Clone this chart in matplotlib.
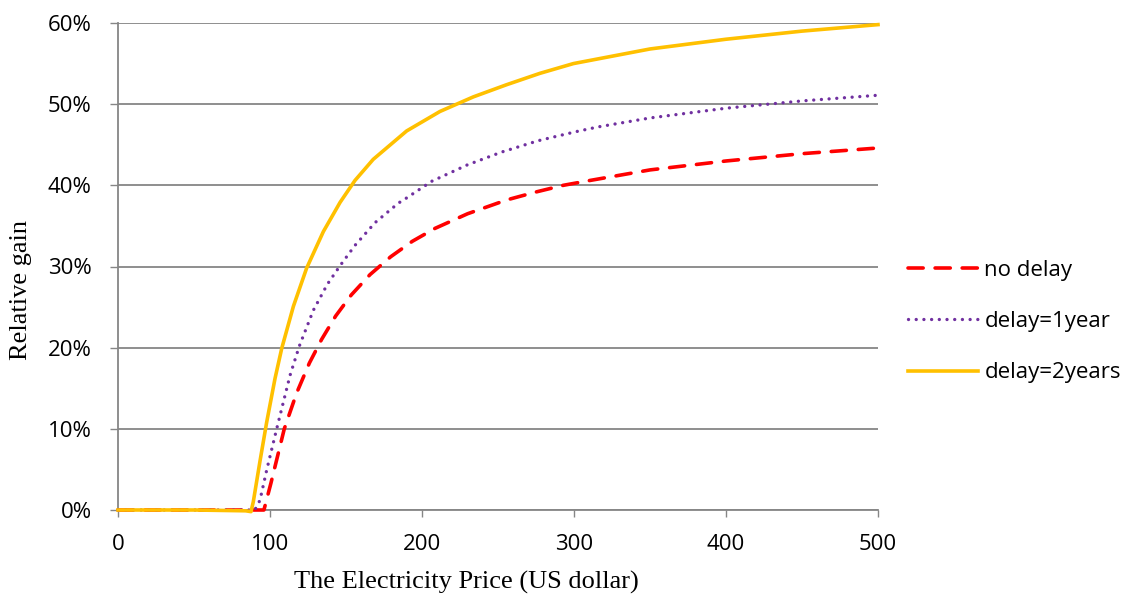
import matplotlib
matplotlib.use("Agg")
import matplotlib.pyplot as plt
from matplotlib.ticker import FuncFormatter

# ---- data (price in US dollar, relative gain in %) ----
x_nodelay = [0, 50, 88, 96, 100.6, 109.4, 117.5, 125.9, 133.9, 143.2, 153.5,
             165.8, 179.4, 193.6, 208.6, 230, 255.7, 275.4, 292.9, 310.5,
             350, 400, 450, 500]
y_nodelay = [0, 0, 0, 0, 3.3, 10.0, 14.4, 18.1, 21.0, 23.9, 26.5,
             29.0, 31.2, 33.1, 34.7, 36.5, 38.2, 39.2, 40.0, 40.6,
             41.9, 43.0, 43.9, 44.6]

x_delay1 = [0, 50, 85, 90, 93.4, 97.8, 104.4, 113.2, 119.3, 128.5, 137.7, 146.1,
            155.9, 169.1, 184.4, 189.5, 206.4, 229.6, 252.4, 276.5, 301, 315.9,
            350, 400, 450, 500]
y_delay1 = [0, 0, 0, 0, 1.2, 4.9, 10.0, 16.6, 20.2, 24.6, 27.8, 30.1,
            32.6, 35.4, 37.8, 38.4, 40.5, 42.5, 44.1, 45.5, 46.6, 47.2,
            48.3, 49.5, 50.4, 51.1]

x_delay2 = [0, 50, 84, 87.5, 89, 93.4, 97.8, 103.3, 107.7, 115.4, 124.1, 135.1,
            146.1, 155.9, 167.9, 189.9, 211.8, 233.8, 255.7, 277.6,
            299.6, 350, 400, 450, 500]
y_delay2 = [0, 0, -0.1, -0.2, 1.0, 6.0, 10.8, 16.2, 19.9, 25.1, 29.8, 34.3,
            37.9, 40.6, 43.2, 46.7, 49.1, 50.9, 52.4, 53.8,
            55.0, 56.8, 58.0, 59.0, 59.8]

series_labels = ["no delay", "delay=1year", "delay=2years"]
x_ticks = [0, 100, 200, 300, 400, 500]
y_ticks = [0, 10, 20, 30, 40, 50, 60]

TICK_FONT = "Open Sans"
SERIF = "Liberation Serif"
GRID_C = "#868686"

fig = plt.figure(figsize=(11.31, 5.98), dpi=100)
ax = fig.add_axes([118 / 1131, 1 - 510 / 598, 760 / 1131, 487 / 598])

ax.plot(x_nodelay, y_nodelay, color="#FF0000", lw=2.6, linestyle=(0, (4.2, 3.3)),
        dash_capstyle="round", label=series_labels[0], clip_on=False, zorder=3)
ax.plot(x_delay1, y_delay1, color="#7030A0", lw=2.4, linestyle=(0, (0.01, 2.3)),
        dash_capstyle="round", label=series_labels[1], clip_on=False, zorder=4)
ax.plot(x_delay2, y_delay2, color="#FFC000", lw=2.6, label=series_labels[2],
        clip_on=False, zorder=5)

ax.set_xlim(0, 500)
ax.set_ylim(0, 60)
ax.set_xticks(x_ticks)
ax.set_yticks(y_ticks)
ax.yaxis.set_major_formatter(FuncFormatter(lambda v, p: f"{int(v)}%"))

ax.grid(axis="y", color=GRID_C, lw=1.3, zorder=0)
ax.set_axisbelow(True)
for s in ["top", "right"]:
    ax.spines[s].set_visible(False)
for s in ["left", "bottom"]:
    ax.spines[s].set_color(GRID_C)
    ax.spines[s].set_linewidth(1.3)

ax.tick_params(axis="y", direction="out", length=6, width=1.0, color=GRID_C, pad=13,
               labelsize=16)
ax.tick_params(axis="x", direction="out", length=5, width=1.0, color=GRID_C, pad=12,
               labelsize=16)
for lab in ax.get_xticklabels() + ax.get_yticklabels():
    lab.set_fontfamily(TICK_FONT)

fig.text(466 / 1131, 1 - 582 / 598, "The Electricity Price (US dollar)",
         fontfamily=SERIF, fontsize=19, ha="center", va="center")
fig.text(21 / 1131, 1 - 290 / 598, "Relative gain", fontfamily=SERIF, fontsize=19,
         ha="center", va="center", rotation=90)

leg = ax.legend(loc="center left", bbox_to_anchor=(1.039, 0.387), frameon=False,
                borderpad=0, borderaxespad=0, handlelength=3.15, handletextpad=0.3,
                labelspacing=1.37, prop={"family": TICK_FONT, "size": 16})

fig.savefig("out.png", dpi=100)
